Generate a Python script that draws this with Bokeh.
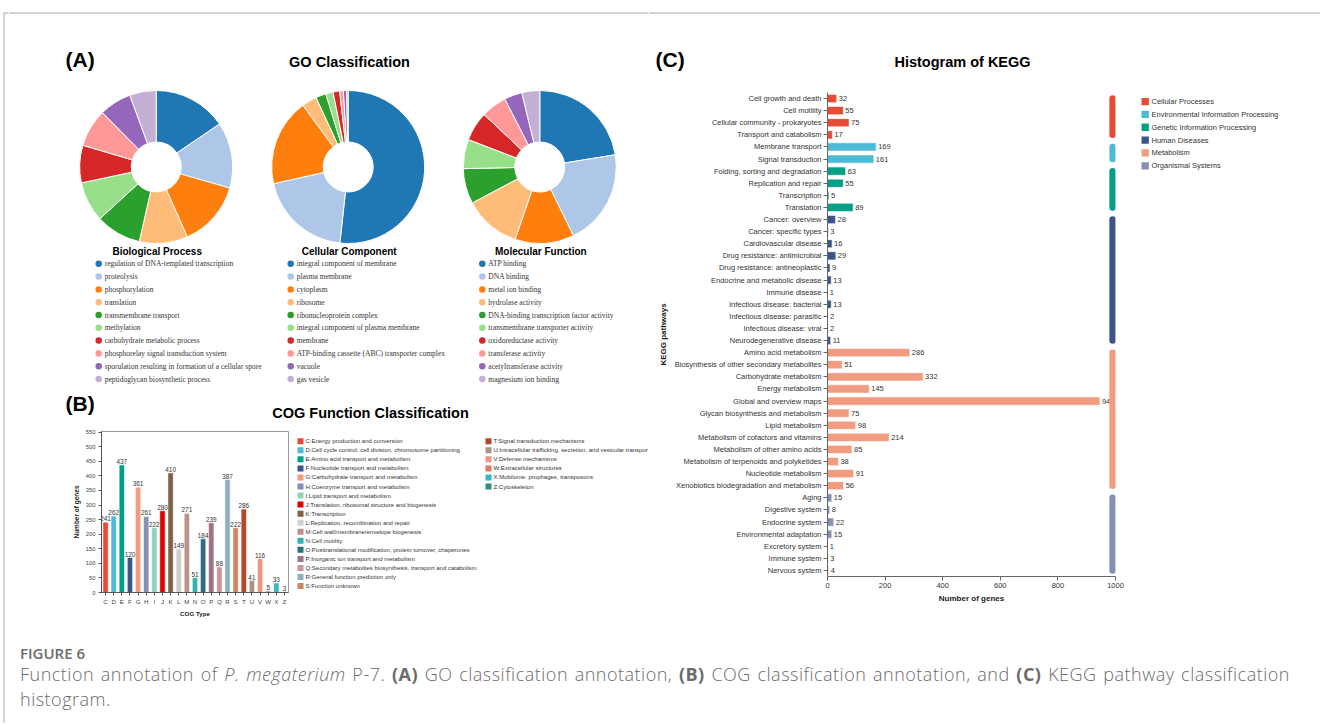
import numpy as np
from bokeh.plotting import figure
from bokeh.models import Range1d, FactorRange, ColumnDataSource, Div, SingleIntervalTicker, FixedTicker
from bokeh.layouts import column, row
from bokeh.core.properties import value
from bokeh.embed import file_html
from bokeh.resources import INLINE

# ---------------- data ----------------
go_colors = ["#1f77b4", "#aec7e8", "#ff7f0e", "#ffbb78", "#2ca02c",
             "#98df8a", "#d62728", "#ff9896", "#9467bd", "#c5b0d5"]

bp_terms = ["regulation of DNA-templated transcription", "proteolysis", "phosphorylation",
            "translation", "transmembrane transport", "methylation",
            "carbohydrate metabolic process", "phosphorelay signal transduction system",
            "sporulation resulting in formation of a cellular spore",
            "peptidoglycan biosynthetic process"]
bp_values = [155, 139, 139, 102, 96, 85, 79, 80, 68, 56]

cc_terms = ["integral component of membrane", "plasma membrane", "cytoplasm", "ribosome",
            "ribonucleoprotein complex", "integral component of plasma membrane", "membrane",
            "ATP-binding cassette (ABC) transporter complex", "vacuole", "gas vesicle"]
cc_values = [668, 255, 238, 41, 28, 20, 18, 10, 9, 4]

mf_terms = ["ATP binding", "DNA binding", "metal ion binding", "hydrolase activity",
            "DNA-binding transcription factor activity", "transmembrane transporter activity",
            "oxidoreductase activity", "transferase activity", "acetyltransferase activity",
            "magnesium ion binding"]
mf_values = [178, 161, 99, 95, 59, 49, 49, 43, 30, 30]

go_titles = ["Biological Process", "Cellular Component", "Molecular Function"]

cog_letters = ["C", "D", "E", "F", "G", "H", "I", "J", "K", "L", "M", "N", "O", "P",
               "Q", "R", "S", "T", "U", "V", "W", "X", "Z"]
cog_values = [241, 262, 437, 120, 361, 261, 222, 280, 410, 149, 271, 51, 184, 239,
              88, 387, 222, 286, 41, 116, 5, 33, 3]
cog_colors = ["#E64B35", "#4DBBD5", "#00A087", "#3C5488", "#F39B7F", "#8491B4", "#91D1C2",
              "#DC0000", "#7E6148", "#D0D0D0", "#C0918A", "#2FB5B0", "#2E6E80", "#9E7185",
              "#C9979B", "#8FB1BF", "#D0865E", "#B5472A", "#A89585", "#EE9580", "#E27A66",
              "#3CB6C6", "#2A8F89"]
cog_desc = ["Energy production and conversion",
            "Cell cycle control, cell division, chromosome partitioning",
            "Amino acid transport and metabolism",
            "Nucleotide transport and metabolism",
            "Carbohydrate transport and metabolism",
            "Coenzyme transport and metabolism",
            "Lipid transport and metabolism",
            "Translation, ribosomal structure and biogenesis",
            "Transcription",
            "Replication, recombination and repair",
            "Cell wall/membrane/envelope biogenesis",
            "Cell motility",
            "Posttranslational modification, protein turnover, chaperones",
            "Inorganic ion transport and metabolism",
            "Secondary metabolites biosynthesis, transport and catabolism",
            "General function prediction only",
            "Function unknown",
            "Signal transduction mechanisms",
            "Intracellular trafficking, secretion, and vesicular transport",
            "Defense mechanisms",
            "Extracellular structures",
            "Mobilome: prophages, transposons",
            "Cytoskeleton"]

kegg_groups = ["Cellular Processes", "Environmental Information Processing",
               "Genetic Information Processing", "Human Diseases", "Metabolism",
               "Organismal Systems"]
kegg_group_colors = ["#E64B35", "#4DBBD5", "#00A087", "#3C5488", "#F39B7F", "#8491B4"]
kegg_paths = ["Cell growth and death", "Cell motility", "Cellular community - prokaryotes",
              "Transport and catabolism",
              "Membrane transport", "Signal transduction",
              "Folding, sorting and degradation", "Replication and repair", "Transcription",
              "Translation",
              "Cancer: overview", "Cancer: specific types", "Cardiovascular disease",
              "Drug resistance: antimicrobial", "Drug resistance: antineoplastic",
              "Endocrine and metabolic disease", "Immune disease", "Infectious disease: bacterial",
              "Infectious disease: parasitic", "Infectious disease: viral",
              "Neurodegenerative disease",
              "Amino acid metabolism", "Biosynthesis of other secondary metabolites",
              "Carbohydrate metabolism", "Energy metabolism", "Global and overview maps",
              "Glycan biosynthesis and metabolism", "Lipid metabolism",
              "Metabolism of cofactors and vitamins", "Metabolism of other amino acids",
              "Metabolism of terpenoids and polyketides", "Nucleotide metabolism",
              "Xenobiotics biodegradation and metabolism",
              "Aging", "Digestive system", "Endocrine system", "Environmental adaptation",
              "Excretory system", "Immune system", "Nervous system"]
kegg_values = [32, 55, 75, 17, 169, 161, 63, 55, 5, 89,
               28, 3, 16, 29, 9, 13, 1, 13, 2, 2, 11,
               286, 51, 332, 145, 946, 75, 98, 214, 85, 38, 91, 56,
               15, 8, 22, 15, 1, 3, 4]
kegg_group_sizes = [4, 2, 4, 11, 12, 7]

SANS = value("Liberation Sans")
SERIF = value("Liberation Serif")
TXT = "#333333"
BORDER = "#a8a8a8"


def canvas(x0, y0, w, h):
    p = figure(width=w, height=h, x_range=Range1d(x0, x0 + w), y_range=Range1d(y0 + h, y0),
               toolbar_location=None, output_backend="svg", min_border=0,
               x_axis_location=None, y_axis_location=None, outline_line_color=None)
    p.grid.visible = False
    return p


# ---------------- page border strip ----------------
strip = canvas(0, 0, 8, 723)
strip.segment(x0=[3.5, 3.0], y0=[12.5, 12.5], x1=[3.5, 8.0], y1=[723, 12.5],
              line_color=[BORDER, BORDER], line_width=1)

# ---------------- GO panel (canvas) ----------------
go = canvas(8, 0, 640, 422)
go.segment(x0=[8], y0=[12.5], x1=[648], y1=[12.5], line_color=BORDER, line_width=1)
go.text(x=[65], y=[59], text=["(A)"], text_font=SANS, text_font_style="bold",
        text_font_size="21px", text_baseline="middle", text_color="black")
go.text(x=[349], y=[61], text=["GO Classification"], text_font=SANS, text_font_style="bold",
        text_font_size="14.5px", text_baseline="middle", text_align="center", text_color="black")
go.text(x=[65], y=[403], text=["(B)"], text_font=SANS, text_font_style="bold",
        text_font_size="21px", text_baseline="middle", text_color="black")
go.text(x=[370], y=[412], text=["COG Function Classification"], text_font=SANS,
        text_font_style="bold", text_font_size="14.5px", text_baseline="middle",
        text_align="center", text_color="black")

centers = [155.7, 347.7, 539.3]
for cx, vals, terms, title in zip(centers, [bp_values, cc_values, mf_values],
                                  [bp_terms, cc_terms, mf_terms], go_titles):
    v = np.array(vals, dtype=float)
    frac = v / v.sum()
    cum = np.concatenate([[0], np.cumsum(frac)])
    start = np.pi / 2 - 2 * np.pi * cum[:-1]
    end = np.pi / 2 - 2 * np.pi * cum[1:]
    src = ColumnDataSource(dict(x=[cx] * len(v), y=[166.5] * len(v), s=start, e=end,
                                c=go_colors))
    go.annular_wedge(x="x", y="y", inner_radius=25, outer_radius=76.5,
                     inner_radius_units="screen", outer_radius_units="screen",
                     start_angle="s", end_angle="e", direction="clock",
                     fill_color="c", line_color="white", line_width=1, source=src)
    go.text(x=[cx + 1], y=[251], text=[title], text_font=SANS, text_font_style="bold",
            text_font_size="10px", text_baseline="middle", text_align="center",
            text_color="black")
    ys = [263.3 + 12.8 * i for i in range(len(terms))]
    go.scatter(x=[cx - 57.5] * len(terms), y=ys, size=6.5, marker="circle",
               fill_color=go_colors, line_color=None)
    go.text(x=[cx - 51.5] * len(terms), y=ys, text=terms, text_font=SERIF,
            text_font_size="7.5px", text_baseline="middle", text_color=TXT)

# ---------------- COG bar chart ----------------
cog = figure(width=287, height=198, x_range=FactorRange(*cog_letters),
             y_range=Range1d(0, 552), toolbar_location=None, output_backend="svg",
             min_border_left=93, min_border_right=7, min_border_top=9, min_border_bottom=28,
             outline_line_color="#9a9a9a", outline_line_width=1)
cog.grid.visible = False
cog_src = ColumnDataSource(dict(x=cog_letters, top=cog_values, c=cog_colors,
                                lab=[str(v) for v in cog_values]))
cog.vbar(x="x", top="top", width=0.65, fill_color="c", line_color="white",
         line_width=0.5, source=cog_src)
cog.text(x="x", y="top", text="lab", source=cog_src, text_align="center",
         text_baseline="bottom", y_offset=-1, text_font=SANS, text_font_size="6.4px",
         text_color=TXT)
cog.yaxis.ticker = SingleIntervalTicker(interval=50)
cog.yaxis.axis_label = "Number of genes"
cog.xaxis.axis_label = "COG Type"
for ax in [cog.xaxis[0], cog.yaxis[0]]:
    ax.axis_line_color = "#555555"
    ax.major_tick_line_color = "#555555"
    ax.major_tick_out = 3
    ax.major_tick_in = 0
    ax.minor_tick_line_color = None
    ax.major_label_text_font = "Liberation Sans"
    ax.major_label_text_color = "#444444"
    ax.major_label_standoff = 2
    ax.axis_label_text_font = "Liberation Sans"
    ax.axis_label_text_font_style = "bold"
    ax.axis_label_text_color = "#222222"
    ax.axis_label_standoff = 3
cog.yaxis.major_label_text_font_size = "5.8px"
cog.xaxis.major_label_text_font_size = "6.2px"
cog.yaxis.axis_label_text_font_size = "6.5px"
cog.xaxis.axis_label_text_font_size = "6.2px"
cog.xaxis.axis_label_standoff = 2

# ---------------- COG legend (canvas) ----------------
cogl = canvas(295, 422, 353, 198)
leg_lab = [f"{l}:{d}" for l, d in zip(cog_letters, cog_desc)]
n1 = 17
lx = [300 if i < n1 else 488 for i in range(len(leg_lab))]
ly = [434 + 11.13 * (i if i < n1 else i - n1) for i in range(len(leg_lab))]
cogl.scatter(x=lx, y=ly, marker="square", size=6, fill_color=cog_colors, line_color=None)
cogl.text(x=[x + 5 for x in lx], y=ly, text=leg_lab, text_font=SANS, text_font_size="6px",
          text_baseline="middle", text_color=TXT)

# ---------------- KEGG top canvas ----------------
ktop = canvas(648, 0, 672, 85)
ktop.segment(x0=[648], y0=[12.5], x1=[1320], y1=[12.5], line_color=BORDER, line_width=1)
ktop.text(x=[655], y=[59], text=["(C)"], text_font=SANS, text_font_style="bold",
          text_font_size="21px", text_baseline="middle", text_color="black")
ktop.text(x=[962], y=[61], text=["Histogram of KEGG"], text_font=SANS, text_font_style="bold",
          text_font_size="14.5px", text_baseline="middle", text_align="center",
          text_color="black")

# ---------------- KEGG bar chart ----------------
grp_of = []
for g, n in zip(kegg_groups, kegg_group_sizes):
    grp_of += [g] * n
kcol = [kegg_group_colors[kegg_groups.index(g)] for g in grp_of]

kegg = figure(width=482, height=535, y_range=FactorRange(*kegg_paths[::-1]),
              x_range=Range1d(0, 1000), toolbar_location=None, output_backend="svg",
              min_border_left=179, min_border_right=15, min_border_top=7,
              min_border_bottom=44, outline_line_color=None)
kegg.grid.visible = False
ksrc = ColumnDataSource(dict(y=kegg_paths, v=kegg_values, c=kcol,
                             lab=[str(v) for v in kegg_values]))
kegg.hbar(y="y", right="v", height=0.68, fill_color="c", line_color="white",
          line_width=0.6, source=ksrc)
kegg.text(x="v", y="y", text="lab", source=ksrc, x_offset=2, text_baseline="middle",
          text_font=SANS, text_font_size="7.5px", text_color=TXT)
idx = 0
for g, n, c in zip(kegg_groups, kegg_group_sizes, kegg_group_colors):
    kegg.segment(x0=[990], y0=[kegg_paths[idx]], x1=[990], y1=[kegg_paths[idx + n - 1]],
                 line_color=c, line_width=6.5, line_cap="round")
    idx += n
kegg.xaxis.ticker = FixedTicker(ticks=[0, 200, 400, 600, 800, 1000])
kegg.xaxis.axis_label = "Number of genes"
kegg.yaxis.axis_label = "KEGG pathways"
for ax in [kegg.xaxis[0], kegg.yaxis[0]]:
    ax.axis_line_color = "#666666"
    ax.major_tick_line_color = "#666666"
    ax.major_tick_out = 4
    ax.major_tick_in = 0
    ax.minor_tick_line_color = None
    ax.major_label_text_font = "Liberation Sans"
    ax.major_label_text_font_size = "7.5px"
    ax.major_label_text_color = TXT
    ax.major_label_standoff = 2
    ax.axis_label_text_font = "Liberation Sans"
    ax.axis_label_text_font_style = "bold"
    ax.axis_label_text_font_size = "8px"
    ax.axis_label_text_color = "#222222"
    ax.axis_label_standoff = 4
kegg.xaxis.axis_label_standoff = 3

# ---------------- KEGG legend (canvas) ----------------
kl = canvas(1130, 85, 190, 535)
kly = [95 + 14.2 * i for i in range(len(kegg_groups))]
kl.scatter(x=[1144.7] * 6, y=kly, marker="square", size=7.3, fill_color=kegg_group_colors,
           line_color=None)
kl.text(x=[1151] * 6, y=kly, text=kegg_groups, text_font=SANS, text_font_size="7.5px",
        text_baseline="middle", text_color=TXT)

# ---------------- caption ----------------
cap_html = (
    "<div style=\"font-family:'Open Sans',sans-serif;color:#6b6b6b;padding-left:7px;\">"
    "<div style='font-size:15px;font-weight:600;line-height:16px;"
    "margin-top:20px;'>FIGURE 6</div>"
    "<div style='font-size:18px;font-weight:300;line-height:25px;margin-top:1px;"
    "letter-spacing:0.5px;word-spacing:1.5px;'>"
    "Function annotation of "
    "<i>P. megaterium</i> P-7. <b style='font-weight:700'>(A)</b> GO classification "
    "annotation, <b style='font-weight:700'>(B)</b> COG classification annotation, and "
    "<b style='font-weight:700'>(C)</b> KEGG pathway classification<br>histogram.</div>"
    "</div>")
cap = Div(text=cap_html, width=1312, height=100)

left = column(go, row(cog, cogl))
right = column(ktop, row(kegg, kl))
p = row(strip, column(row(left, right), cap))

open("out.html", "w").write(file_html(p, INLINE))
